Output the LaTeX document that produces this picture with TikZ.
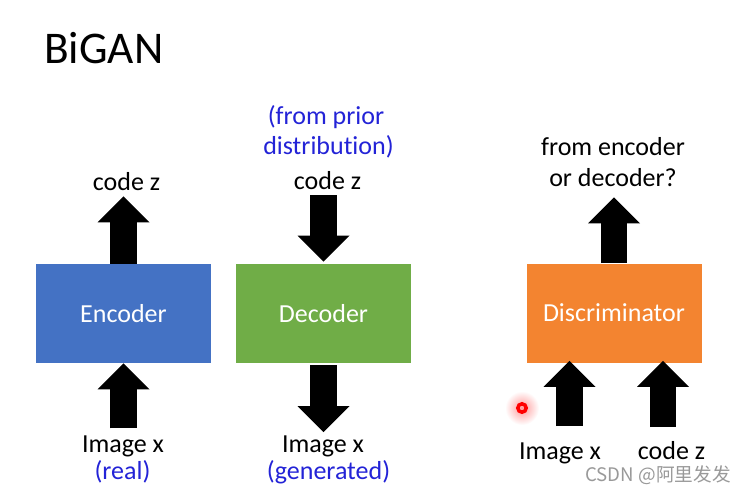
\documentclass[tikz,border=0pt]{standalone}
\usepackage{fontspec}
\setmainfont{Carlito}[Ligatures=NoCommon]
\newfontfamily\wmfont{Noto Sans CJK SC}
\usepackage{xcolor}
\usetikzlibrary{arrows.meta,positioning}
\definecolor{encblue}{RGB}{68,114,196}
\definecolor{decgreen}{RGB}{112,173,71}
\definecolor{disorange}{RGB}{243,132,48}
\definecolor{noteblue}{RGB}{35,35,215}
\tikzset{
  box/.style={minimum width=131.25pt,minimum height=74.25pt,inner sep=0pt,
              text=white,font=\fontsize{19.5}{23}\selectfont},
  lbl/.style={anchor=base,inner sep=0pt,font=\fontsize{19.5}{23}\selectfont},
  note/.style={lbl,text=noteblue},
  big/.style={line width=20pt,-{Triangle[length=19.5pt,width=39pt,line width=0pt]}},
}

\begin{document}
\begin{tikzpicture}[x=0.75pt, y=-0.75pt]
\fill[white] (0,0) rectangle (749,493);
\useasboundingbox (0,0) rectangle (749,493);
\node[lbl, anchor=base west, font=\fontsize{34}{40}\selectfont] (title) at (44,63) {BiGAN};
\node[box, fill=encblue] (enc) at (123.5,313.5) {Encoder};
\node[box, fill=decgreen] (dec) at (323.5,313.5) {Decoder};
\node[box, fill=disorange] (dis) at (614,313) {Discriminator};
\node[lbl] (ecode) at (126.5,190) {code z};
\node[lbl] (eimg) at (123,452) {Image x};
\node[note] (ereal) at (122.5,479) {(real)};
\node[note] (dprior) at (326,124) {(from prior};
\node[note] (ddist) at (328.5,154) {distribution)};
\node[lbl] (dcode) at (327.5,189) {code z};
\node[lbl] (dimg) at (323,452) {Image x};
\node[note] (dgen) at (328.5,479) {(generated)};
\node[lbl] (qfrom) at (613,155) {from encoder};
\node[lbl] (qor) at (613,186) {or decoder?};
\node[lbl] (simg) at (560,459) {Image x};
\node[lbl] (scode) at (671.5,459) {code z};
\node[anchor=base, inner sep=0pt, text=black!40, font=\wmfont\fontsize{14}{16}\selectfont]
  (wm) at (658,481) {CSDN @阿里发发};
\coordinate (sinx) at (569.5,426);
\coordinate (sinz) at (663,427);
\draw[big, shorten >=4.5pt] (enc.north) -- (ecode.south -| enc.north);
\draw[big, shorten <=5pt] (eimg.north -| enc.south) -- (enc.south);
\draw[big, shorten <=4.5pt, shorten >=1.5pt] (dcode.south -| dec.north) -- (dec.north);
\draw[big, shorten <=1.5pt, shorten >=2.25pt] (dec.south) -- (dimg.north -| dec.south);
\draw[big, shorten >=8.25pt] (dis.north) -- (qor.south -| dis.north);
\draw[big, shorten >=-1.5pt] (sinx) -- (sinx |- dis.south);
\draw[big, shorten >=-1.5pt] (sinz) -- (sinz |- dis.south);
\shade[inner color=red!40, outer color=white] (522,408) circle (17);
\draw[red, line width=2.6pt] (522,408) circle (4.2);
\end{tikzpicture}
\end{document}
